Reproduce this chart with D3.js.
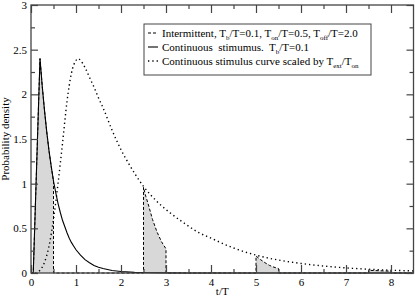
<!DOCTYPE html>
<html>
<head>
<meta charset="utf-8">
<script src="https://cdn.jsdelivr.net/npm/d3@7"></script>
<style>
  body { margin: 0; background: #fff; }
  text { font-family: "Liberation Serif", "DejaVu Serif", serif; fill: #000; }
</style>
</head>
<body>
<div id="chart"></div>
<script>
let width = 415;
let height = 297;

// continuous stimulus, Tb/T = 0.1
let contT = [0, 0.05, 0.2, 0.25, 0.3, 0.35, 0.4, 0.45, 0.5, 0.55, 0.6, 0.65, 0.7, 0.75, 0.8, 0.85, 0.9, 0.95, 1.0,
             1.1, 1.2, 1.3, 1.4, 1.5, 1.6, 1.8, 2.0, 2.3, 2.6, 3.0, 3.5, 8.5];
let contV = [0, 0, 2.4, 2.09, 1.82, 1.58, 1.37, 1.19, 1.03, 0.9, 0.78, 0.68, 0.59, 0.52, 0.45, 0.39, 0.34, 0.3, 0.26,
             0.2, 0.15, 0.115, 0.085, 0.065, 0.05, 0.028, 0.016, 0.007, 0.003, 0.001, 0, 0];

// intermittent stimulus (on 0.5, off 2.0)
let interT = [0, 0.05, 0.2, 0.25, 0.3, 0.35, 0.4, 0.45, 0.5, 0.5, 2.5, 2.5, 2.55, 2.6, 2.7, 2.8, 2.9, 3.0, 3.0,
              5.0, 5.0, 5.1, 5.2, 5.3, 5.4, 5.5, 5.5, 7.5, 7.5, 7.75, 8.0, 8.0, 8.5];
let interV = [0, 0, 2.4, 2.09, 1.82, 1.58, 1.37, 1.19, 1.03, 0, 0, 0.96, 0.86, 0.78, 0.6, 0.46, 0.35, 0.27, 0,
              0, 0.19, 0.15, 0.115, 0.085, 0.065, 0.05, 0, 0, 0.03, 0.025, 0.02, 0, 0];

// continuous stimulus curve scaled by Text/Ton
let scaledT = [0, 0.1, 0.2, 0.3, 0.4, 0.5, 0.6, 0.7, 0.8, 0.9, 1.0, 1.05, 1.1, 1.2, 1.3, 1.4, 1.5, 1.6, 1.8, 2.0, 2.2,
               2.5, 2.8, 3.1, 3.4, 3.7, 4.0, 4.5, 5.0, 5.5, 6.0, 6.5, 7.0, 7.5, 8.0, 8.5];
let scaledV = [0, 0, 0.03, 0.12, 0.3, 0.6, 1.0, 1.45, 1.92, 2.24, 2.38, 2.4, 2.38, 2.3, 2.19, 2.08, 1.96, 1.85, 1.6, 1.38, 1.2,
               0.97, 0.8, 0.67, 0.56, 0.46, 0.39, 0.28, 0.2, 0.145, 0.107, 0.078, 0.057, 0.042, 0.031, 0.023];

let xMajor = [0, 1, 2, 3, 4, 5, 6, 7, 8];
let xMinor = [0.5, 1.5, 2.5, 3.5, 4.5, 5.5, 6.5, 7.5];
let yMajor = [0, 0.5, 1, 1.5, 2, 2.5, 3];
let yMinor = [0.25, 0.75, 1.25, 1.75, 2.25, 2.75];

let svg = d3.select("#chart").append("svg")
            .attr("width", width)
            .attr("height", height);

let pLeft = 31, pRight = 413.5, pTop = 5, pBottom = 273;

let x = d3.scaleLinear().domain([0, 8.5]).range([pLeft, pRight]);
let y = d3.scaleLinear().domain([0, 3]).range([pBottom, pTop]);

let zip = (ts, vs) => ts.map((t, i) => [t, vs[i]]);

// shaded on-periods
svg.append("path")
   .datum(zip(interT, interV))
   .attr("fill", "#d8d8d8")
   .attr("d", d3.area().x(d => x(d[0])).y0(y(0)).y1(d => y(d[1])));

let line = d3.line().x(d => x(d[0])).y(d => y(d[1]));

svg.append("path")
   .datum(zip(interT, interV))
   .attr("fill", "none").attr("stroke", "#000").attr("stroke-width", 1)
   .attr("stroke-dasharray", "3,2")
   .attr("d", line);

svg.append("path")
   .datum(zip(contT, contV))
   .attr("fill", "none").attr("stroke", "#000").attr("stroke-width", 1.1)
   .attr("d", line);

svg.append("path")
   .datum(zip(scaledT, scaledV))
   .attr("fill", "none").attr("stroke", "#000").attr("stroke-width", 1.4)
   .attr("stroke-dasharray", "1.3,3")
   .attr("d", d3.line().x(d => x(d[0])).y(d => y(d[1])).curve(d3.curveMonotoneX));

// axes, ticks pointing inward
function styleAxis(g) {
  g.select(".domain").remove();
  g.selectAll(".tick line").attr("stroke", "#444").attr("stroke-width", 1.2);
  g.selectAll("text").style("font-family", "Liberation Serif, serif").style("font-size", "11px").attr("fill", "#000");
}

svg.append("g").attr("transform", `translate(0,${pBottom})`)
   .call(d3.axisBottom(x).tickValues(xMajor).tickSize(-8).tickPadding(5).tickFormat(d3.format("d")))
   .call(styleAxis);
svg.append("g").attr("transform", `translate(0,${pBottom})`)
   .call(d3.axisBottom(x).tickValues(xMinor).tickSize(-4).tickFormat(""))
   .call(styleAxis);
svg.append("g").attr("transform", `translate(0,${pTop})`)
   .call(d3.axisTop(x).tickValues(xMajor).tickSize(-8).tickFormat(""))
   .call(styleAxis);
svg.append("g").attr("transform", `translate(0,${pTop})`)
   .call(d3.axisTop(x).tickValues(xMinor).tickSize(-4).tickFormat(""))
   .call(styleAxis);
svg.append("g").attr("transform", `translate(${pLeft},0)`)
   .call(d3.axisLeft(y).tickValues(yMajor).tickSize(-7).tickPadding(4).tickFormat(d3.format("")))
   .call(styleAxis);
svg.append("g").attr("transform", `translate(${pLeft},0)`)
   .call(d3.axisLeft(y).tickValues(yMinor).tickSize(-4).tickFormat(""))
   .call(styleAxis);
svg.append("g").attr("transform", `translate(${pRight},0)`)
   .call(d3.axisRight(y).tickValues(yMajor).tickSize(-7).tickFormat(""))
   .call(styleAxis);
svg.append("g").attr("transform", `translate(${pRight},0)`)
   .call(d3.axisRight(y).tickValues(yMinor).tickSize(-4).tickFormat(""))
   .call(styleAxis);

// frame
svg.append("rect")
   .attr("x", pLeft).attr("y", pTop)
   .attr("width", pRight - pLeft).attr("height", pBottom - pTop)
   .attr("fill", "none").attr("stroke", "#444").attr("stroke-width", 1.3);

// axis titles
svg.append("text")
   .attr("x", (pLeft + pRight) / 2).attr("y", 295)
   .attr("text-anchor", "middle").style("font-size", "11px")
   .text("t/T");
svg.append("text")
   .attr("transform", `translate(9,${(pTop + pBottom) / 2}) rotate(-90)`)
   .attr("text-anchor", "middle").style("font-size", "11px")
   .text("Probability density");

// legend
let legend = svg.append("g");
legend.append("rect")
   .attr("x", 144).attr("y", 24).attr("width", 227).attr("height", 51)
   .attr("fill", "#fff").attr("stroke", "#444").attr("stroke-width", 1);

let legendRows = [
  { dash: "3,2", w: 1, parts: [["Intermittent, T"], ["b", 1], ["/T=0.1, T"], ["on", 1], ["/T=0.5, T"], ["off", 1], ["/T=2.0"]] },
  { dash: null, w: 1.1, parts: [["Continuous  stimumus.  T"], ["b", 1], ["/T=0.1"]] },
  { dash: "1.3,3", w: 1.4, parts: [["Continuous stimulus curve scaled by T"], ["ext", 1], ["/T"], ["on", 1]] }
];

legendRows.forEach((row, i) => {
  let ly = 33 + i * 14;
  legend.append("line")
     .attr("x1", 148).attr("x2", 158).attr("y1", ly).attr("y2", ly)
     .attr("stroke", "#000").attr("stroke-width", row.w)
     .attr("stroke-dasharray", row.dash);
  let t = legend.append("text")
     .attr("x", 162).attr("y", ly + 4)
     .style("font-size", "11px")
     .style("white-space", "pre");
  row.parts.forEach((p, j) => {
    let prev = row.parts[j - 1];
    let dy = 0;
    if (p[1] && !(prev && prev[1])) dy = 2.5;
    if (!p[1] && prev && prev[1]) dy = -2.5;
    let s = t.append("tspan").attr("dy", dy).text(p[0]);
    if (p[1]) s.style("font-size", "7px");
  });
});
</script>
</body>
</html>
